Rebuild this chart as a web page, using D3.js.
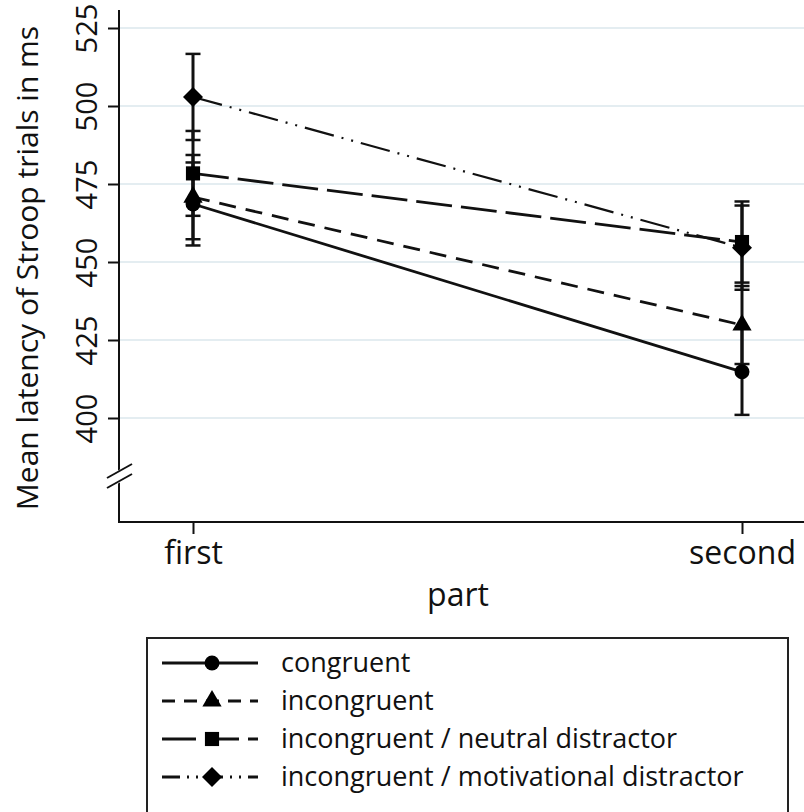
<!DOCTYPE html>
<html>
<head>
<meta charset="utf-8">
<script src="https://cdn.jsdelivr.net/npm/d3@7"></script>
<style>
  body { margin: 0; background: white; }
  text { font-family: "Open Sans", sans-serif; fill: #111; }
</style>
</head>
<body>
<div class="chart"></div>
<script>
var parts = ['first', 'second'];
var seriesNames = ['congruent', 'incongruent', 'incongruent / neutral distractor', 'incongruent / motivational distractor'];
var congruent = [468.6, 414.8];
var incongruent = [470.8, 429.8];
var neutral = [478.4, 456.4];
var motivational = [502.9, 454.6];
// half width of the error bars
var errCongruent = [13.3, 13.8];
var errIncongruent = [13.5, 12.5];
var errNeutral = [13.6, 13.0];
var errMotivational = [13.8, 13.5];
var yTicks = [400, 425, 450, 475, 500, 525];

// square turned 45 degrees, same width and height
const diamond = {
  draw(ctx, size) {
    const r = Math.sqrt(size / 2);
    ctx.moveTo(0, -r); ctx.lineTo(r, 0); ctx.lineTo(0, r); ctx.lineTo(-r, 0); ctx.closePath();
  }
};

var series = [
  { name: seriesNames[0], values: congruent, err: errCongruent, dash: null, legendDash: null, shape: d3.symbolCircle, size: 175 },
  { name: seriesNames[1], values: incongruent, err: errIncongruent, dash: '17,10', legendDash: '13,9', shape: d3.symbolTriangle, size: 160 },
  { name: seriesNames[2], values: neutral, err: errNeutral, dash: '36,9', legendDash: '34,9', shape: d3.symbolSquare, size: 200 },
  { name: seriesNames[3], values: motivational, err: errMotivational, dash: '30,8,2,8,2,8', legendDash: '18,7,2,7,2,7', shape: diamond, size: 200 }
];

const svg = d3.select('.chart')
    .append('svg')
        .attr('width', 804)
        .attr('height', 812)
        .style('background', 'white');

const x = d3.scalePoint().domain(parts).range([193, 742]);
const y = d3.scaleLinear().domain([400, 525]).range([418, 28]);
const axisX = 119, axisY = 522;

// gridlines
svg.append('g').selectAll('line')
    .data(yTicks)
    .enter().append('line')
        .attr('x1', axisX).attr('x2', 804)
        .attr('y1', d => y(d)).attr('y2', d => y(d))
        .attr('stroke', '#e4edf1')
        .attr('stroke-width', 2);

// y axis
const yAxis = svg.append('g')
    .attr('transform', 'translate(' + axisX + ',0)')
    .call(d3.axisLeft(y).tickValues(yTicks).tickSize(11).tickPadding(12));
yAxis.select('.domain').remove();
yAxis.selectAll('.tick line').attr('stroke', '#111').attr('stroke-width', 2);
yAxis.selectAll('.tick text')
    .attr('font-size', 29)
    .attr('text-anchor', 'middle')
    .attr('x', null).attr('dy', null)
    .attr('transform', 'translate(-22,0) rotate(-90)');
svg.append('line')
    .attr('x1', axisX).attr('x2', axisX)
    .attr('y1', 10).attr('y2', axisY)
    .attr('stroke', '#111').attr('stroke-width', 2);

// axis break
svg.append('polygon')
    .attr('points', '112,474 126,466 126,479 112,487')
    .attr('fill', 'white');
[0, 10].forEach(off => {
  svg.append('line')
      .attr('x1', 107).attr('y1', 478 + off)
      .attr('x2', 132).attr('y2', 464 + off)
      .attr('stroke', '#111').attr('stroke-width', 2);
});

// x axis
const xAxis = svg.append('g')
    .attr('transform', 'translate(0,' + axisY + ')')
    .call(d3.axisBottom(x).tickSize(12).tickPadding(8));
xAxis.select('.domain').remove();
xAxis.selectAll('.tick line').attr('stroke', '#111').attr('stroke-width', 2);
xAxis.selectAll('.tick text').attr('font-size', 32).attr('dy', '0.68em');
svg.append('line')
    .attr('x1', axisX - 1).attr('x2', 804)
    .attr('y1', axisY).attr('y2', axisY)
    .attr('stroke', '#111').attr('stroke-width', 2);

svg.append('text')
    .attr('x', 458).attr('y', 606)
    .attr('text-anchor', 'middle')
    .attr('font-size', 32)
    .text('part');

svg.append('text')
    .attr('transform', 'translate(38,268) rotate(-90)')
    .attr('text-anchor', 'middle')
    .attr('font-size', 30)
    .text('Mean latency of Stroop trials in ms');

// error bars
series.forEach(s => {
  const g = svg.append('g');
  s.values.forEach((v, i) => {
    const cx = x(parts[i]);
    g.append('line')
        .attr('x1', cx).attr('x2', cx)
        .attr('y1', y(v + s.err[i])).attr('y2', y(v - s.err[i]))
        .attr('stroke', '#111').attr('stroke-width', 3);
    [v + s.err[i], v - s.err[i]].forEach(e => {
      g.append('line')
          .attr('x1', cx - 7.5).attr('x2', cx + 7.5)
          .attr('y1', y(e)).attr('y2', y(e))
          .attr('stroke', '#111').attr('stroke-width', 2.5);
    });
  });
});

// lines
const line = d3.line().x((d, i) => x(parts[i])).y(d => y(d));
series.forEach(s => {
  svg.append('path')
      .datum(s.values)
      .attr('d', line)
      .attr('fill', 'none')
      .attr('stroke', '#111')
      .attr('stroke-width', s.dash && s.dash.split(',').length > 2 ? 2.2 : 2.8)
      .attr('stroke-dasharray', s.dash);
});

// markers
series.forEach(s => {
  svg.append('g').selectAll('path')
      .data(s.values)
      .enter().append('path')
          .attr('d', d3.symbol().type(s.shape).size(s.size))
          .attr('transform', (d, i) => 'translate(' + x(parts[i]) + ',' + y(d) + ')')
          .attr('fill', '#000');
});

// legend
svg.append('rect')
    .attr('x', 147).attr('y', 638)
    .attr('width', 641).attr('height', 200)
    .attr('fill', 'none')
    .attr('stroke', '#222').attr('stroke-width', 2);

const rows = svg.append('g').selectAll('g')
    .data(series)
    .enter().append('g')
        .attr('transform', (d, i) => 'translate(0,' + (663 + i * 38) + ')');
rows.append('line')
    .attr('x1', 162).attr('x2', 258)
    .attr('stroke', '#111')
    .attr('stroke-width', 2.8)
    .attr('stroke-dasharray', d => d.legendDash);
rows.append('path')
    .attr('d', d => d3.symbol().type(d.shape).size(d.size)())
    .attr('transform', 'translate(212,0)')
    .attr('fill', '#000');
rows.append('text')
    .attr('x', 281).attr('dy', '0.32em')
    .attr('font-size', 27)
    .text(d => d.name);
</script>
</body>
</html>
